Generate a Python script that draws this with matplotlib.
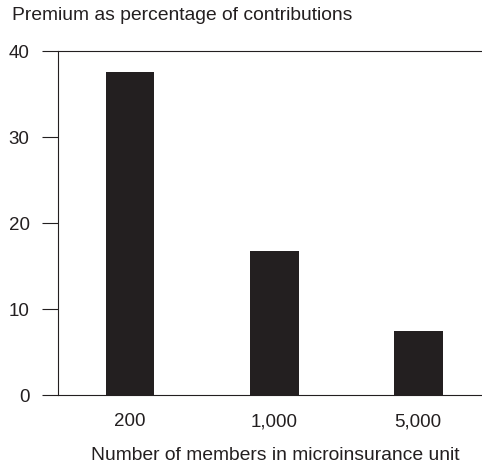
import matplotlib
matplotlib.use("Agg")
import matplotlib.pyplot as plt

categories = ["200", "1,000", "5,000"]
values = [37.6, 16.7, 7.5]
yticks = [0, 10, 20, 30, 40]

plt.rcParams['font.family'] = ["Liberation Sans", "DejaVu Sans"]

fig = plt.figure(figsize=(4.82, 4.71), dpi=100)
ax = fig.add_axes([58/482, 1-395/471, 1-58/482, (395-51)/471])
x = range(len(categories))
ax.bar(x, values, width=0.34, color="#231f20")
ax.set_xlim(-0.5, 2.444)
ax.set_ylim(0, 40)
ax.set_yticks(yticks)
ax.set_xticks(list(x))
ax.set_xticklabels(categories)
ax.tick_params(axis='y', length=11.5, width=0.8, color="#231f20", labelsize=13.5, pad=9, labelcolor="#231f20")
ax.tick_params(axis='x', length=0, labelsize=13.5, pad=13, labelcolor="#231f20")
for s in ["left", "top", "bottom"]:
    ax.spines[s].set_linewidth(0.8)
    ax.spines[s].set_color("#231f20")
ax.spines["right"].set_visible(False)
fig.text(12/482, 1-15/471, "Premium as percentage of contributions", fontsize=13.9,
         va="center", ha="left", color="#231f20")
fig.text(275/482, 1-456/471, "Number of members in microinsurance unit", fontsize=13.9,
         va="center", ha="center", color="#231f20")
fig.savefig("out.png", dpi=100)
